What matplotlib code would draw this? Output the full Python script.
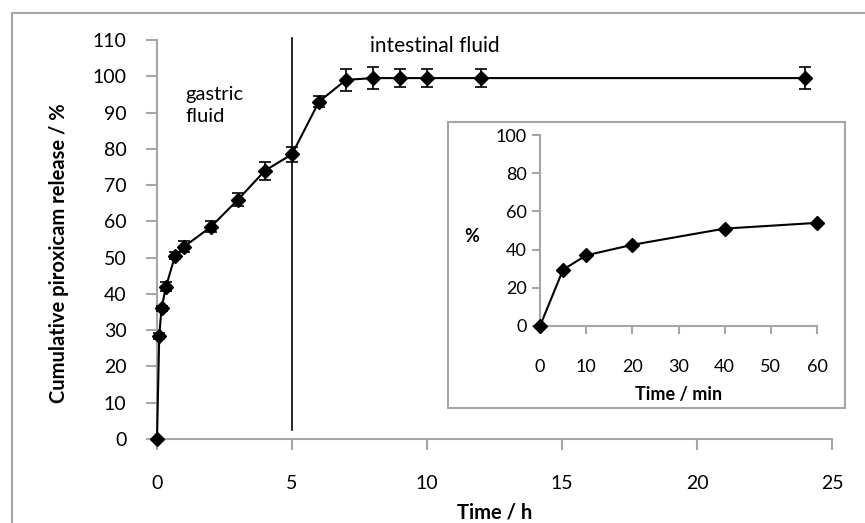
import matplotlib
matplotlib.use("Agg")
import matplotlib.pyplot as plt
from matplotlib.lines import Line2D

plt.rcParams['font.family'] = ['Lato', 'DejaVu Sans']

# main release curve (h, %)
time_h = [0, 0.083, 0.167, 0.333, 0.667, 1, 2, 3, 4, 5, 6, 7, 8, 9, 10, 12, 24]
release = [0, 28.5, 36, 42, 50.5, 53, 58.5, 66, 74, 78.5, 93, 99, 99.5, 99.5, 99.5, 99.5, 99.5]
release_err = [0, 0.8, 0.8, 1.2, 1, 1.5, 1.5, 1.8, 2.5, 2, 1.5, 3, 3, 2.5, 2.5, 2.5, 3]

# first hour inset (min, %)
time_min = [0, 5, 10, 20, 40, 60]
release_min = [0, 29.5, 37, 42.5, 51, 54]

grey = '#a6a6a6'

fig = plt.figure(figsize=(8.65, 5.23), dpi=100)

# outer frame (left + top only visible)
fig.add_artist(Line2D([12 / 865, 12 / 865], [0, 1 - 13 / 523], transform=fig.transFigure,
                      color=grey, lw=1.5))
fig.add_artist(Line2D([12 / 865, 1], [1 - 13 / 523, 1 - 13 / 523], transform=fig.transFigure,
                      color=grey, lw=1.5))

ax = fig.add_axes([157 / 865, 84 / 523, 675 / 865, 399 / 523])
ax.errorbar(time_h, release, yerr=release_err, color='black', lw=1.5,
            marker='D', markersize=7, ecolor='black', elinewidth=1.2, capsize=4,
            capthick=1.2, clip_on=False, zorder=3)
ax.plot([5, 5], [2.5, 110.5], color='black', lw=1.2, clip_on=False)

ax.set_xlim(0, 25)
ax.set_ylim(0, 110)
ax.set_xticks(range(0, 26, 5))
ax.set_yticks(range(0, 111, 10))
for s in ['top', 'right']:
    ax.spines[s].set_visible(False)
for s in ['left', 'bottom']:
    ax.spines[s].set_color(grey)
    ax.spines[s].set_linewidth(1.5)
ax.tick_params(axis='both', direction='out', color=grey, width=1.5, length=8,
               labelsize=14)
ax.tick_params(axis='y', pad=14)
ax.tick_params(axis='x', pad=18)
ax.set_xlabel('Time / h', fontsize=14.5, fontweight='bold')
ax.xaxis.set_label_coords(0.5, -0.158)
ax.set_ylabel('Cumulative piroxicam release / %', fontsize=14.5, fontweight='bold')
ax.yaxis.set_label_coords(-0.13, 0.465)

ax.text(1.05, 92, 'gastric\nfluid', fontsize=14.5, va='center', ha='left',
        linespacing=1.35)
ax.text(10.3, 108.3, 'intestinal fluid', fontsize=15, va='center', ha='center')

# inset box
box = fig.add_axes([448 / 865, 115 / 523, 397 / 865, 286 / 523])
box.set_xticks([])
box.set_yticks([])
for s in box.spines.values():
    s.set_color(grey)
    s.set_linewidth(1.5)

ins = fig.add_axes([540 / 865, 197 / 523, 277 / 865, 191 / 523])
ins.plot(time_min, release_min, color='black', lw=1.5, marker='D', markersize=7,
         clip_on=False, zorder=3)
ins.set_xlim(0, 60)
ins.set_ylim(0, 100)
ins.set_xticks(range(0, 61, 10))
ins.set_yticks(range(0, 101, 20))
for s in ['top', 'right']:
    ins.spines[s].set_visible(False)
for s in ['left', 'bottom']:
    ins.spines[s].set_color(grey)
    ins.spines[s].set_linewidth(1.5)
ins.tick_params(axis='both', direction='out', color=grey, width=1.5, length=6,
                labelsize=13)
ins.tick_params(axis='x', pad=18)
ins.set_xlabel('Time / min', fontsize=13, fontweight='bold')
ins.xaxis.set_label_coords(0.5, -0.315)
ins.set_ylabel('%', fontsize=13, fontweight='bold', rotation=0, va='center')
ins.yaxis.set_label_coords(-0.245, 0.47)

fig.savefig('out.png', dpi=100)
